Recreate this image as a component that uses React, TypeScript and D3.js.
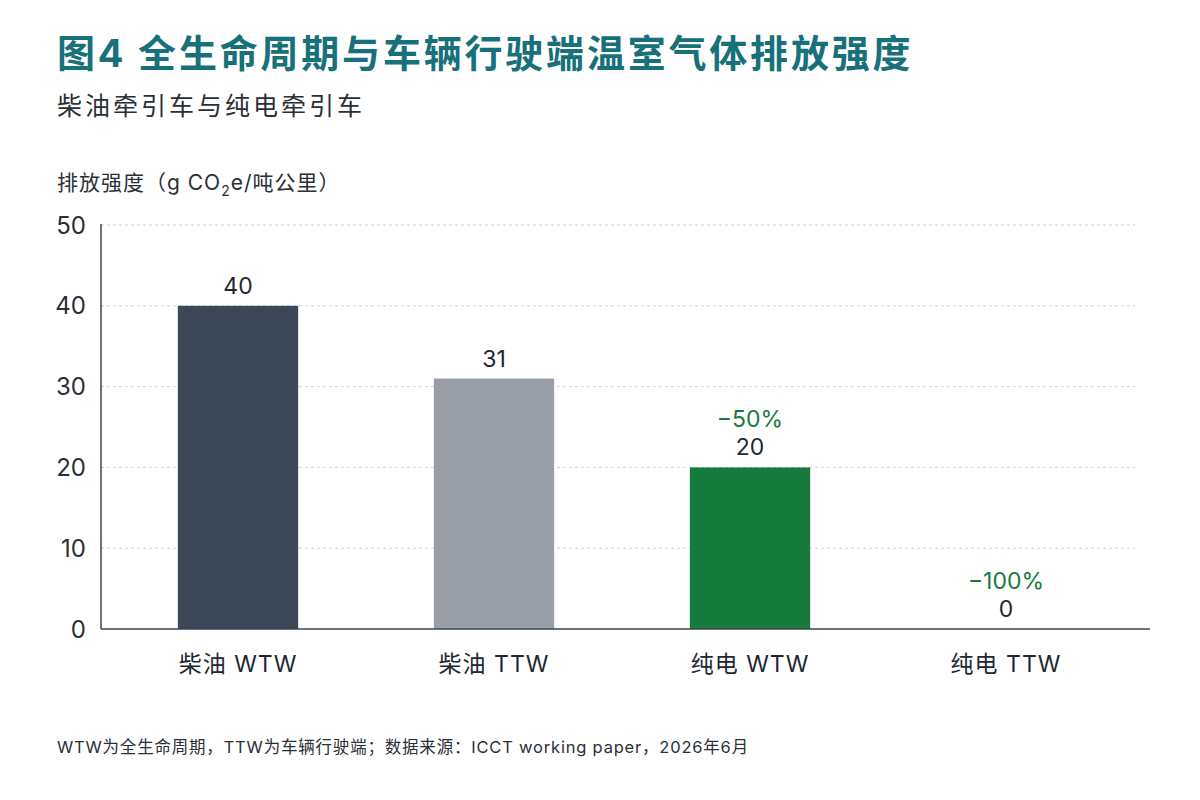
import React from 'react';
import * as d3 from 'd3';

const categories = ['柴油 WTW', '柴油 TTW', '纯电 WTW', '纯电 TTW'];
const values = [40, 31, 20, 0];
const changeLabels = ['', '', '−50%', '−100%'];
const barColors = ['#3d4856', '#9a9ea6', '#167a3d', '#167a3d'];
const yTicks = [0, 10, 20, 30, 40, 50];

const W = 1200;
const H = 800;
const font = 'Inter, "Noto Sans CJK SC", "Noto Sans", sans-serif';

const App = () => {
  const y = d3.scaleLinear().domain([0, 50]).range([629, 225]);
  const x = d3
    .scaleBand<string>()
    .domain(categories)
    .range([110, 1134])
    .paddingInner(0.53)
    .paddingOuter(0.265);

  return (
    <svg width={W} height={H} style={{ display: 'block', margin: -8, background: '#fff' }} fontFamily={font}>
      <rect width={W} height={H} fill="#fff" />
      <text x={57} y={67} fontSize={38} fontWeight={700} fill="#17707a" letterSpacing={2.8}>
        图4 全生命周期与车辆行驶端温室气体排放强度
      </text>
      <text x={57} y={115} fontSize={25} fill="#2b2f36" letterSpacing={3}>
        柴油牵引车与纯电牵引车
      </text>
      <text x={57} y={190} fontSize={21} fill="#2b2f36" letterSpacing={1}>
        排放强度（g CO<tspan dy={6} fontSize={14}>2</tspan>
        <tspan dy={-6}>e/吨公里）</tspan>
      </text>

      {/* grid and y ticks */}
      {yTicks.map((t) => (
        <g key={t}>
          {t > 0 && (
            <line x1={101} x2={1135} y1={y(t)} y2={y(t)} stroke="#cfd3d8" strokeDasharray="3,3" />
          )}
          <text x={86} y={y(t)} dy="0.36em" textAnchor="end" fontSize={24} fill="#2b2f36">
            {t}
          </text>
        </g>
      ))}

      {/* bars */}
      {categories.map((c, i) => (
        <rect
          key={c}
          x={x(c)}
          y={y(values[i])}
          width={x.bandwidth()}
          height={y(0) - y(values[i])}
          fill={barColors[i]}
        />
      ))}

      {/* value and change labels */}
      {categories.map((c, i) => {
        const cx = (x(c) ?? 0) + x.bandwidth() / 2;
        const top = y(values[i]);
        return (
          <g key={c + '-lbl'} textAnchor="middle" fontSize={23}>
            <text x={cx} y={top - 12} fill="#1f2733">
              {values[i]}
            </text>
            {changeLabels[i] && (
              <text x={cx} y={top - 40} fill="#167a3d">
                {changeLabels[i]}
              </text>
            )}
          </g>
        );
      })}

      {/* axes */}
      <line x1={101} x2={101} y1={224} y2={629} stroke="#3a4450" strokeWidth={1.5} />
      <line x1={101} x2={1150} y1={629} y2={629} stroke="#3a4450" strokeWidth={1.5} />

      {categories.map((c) => (
        <text
          key={c + '-x'}
          x={(x(c) ?? 0) + x.bandwidth() / 2}
          y={672}
          textAnchor="middle"
          fontSize={23}
          fill="#1f2733"
          letterSpacing={1}
        >
          {c}
        </text>
      ))}

      <text x={57} y={753} fontSize={16.5} fill="#2b2f36" letterSpacing={0.8}>
        WTW为全生命周期，TTW为车辆行驶端；数据来源：ICCT working paper，2026年6月
      </text>
    </svg>
  );
};

export default App;
